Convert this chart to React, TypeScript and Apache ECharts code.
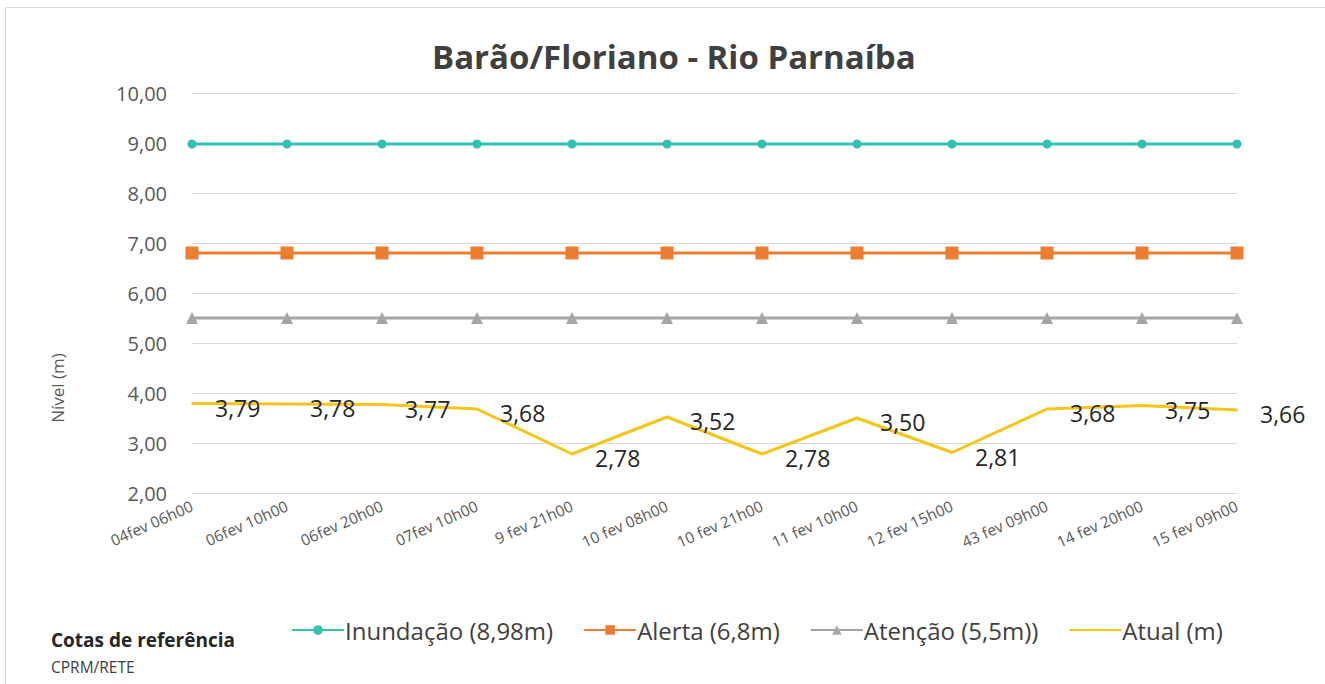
import React, { useEffect, useRef } from "react";
import * as echarts from "echarts";

const categories = [
  "04fev 06h00",
  "06fev 10h00",
  "06fev 20h00",
  "07fev 10h00",
  "9 fev 21h00",
  "10 fev 08h00",
  "10 fev 21h00",
  "11 fev 10h00",
  "12 fev 15h00",
  "43 fev 09h00",
  "14 fev 20h00",
  "15 fev 09h00",
];

const inundacao = [8.98, 8.98, 8.98, 8.98, 8.98, 8.98, 8.98, 8.98, 8.98, 8.98, 8.98, 8.98];
const alerta = [6.8, 6.8, 6.8, 6.8, 6.8, 6.8, 6.8, 6.8, 6.8, 6.8, 6.8, 6.8];
const atencao = [5.5, 5.5, 5.5, 5.5, 5.5, 5.5, 5.5, 5.5, 5.5, 5.5, 5.5, 5.5];
const atual = [3.79, 3.78, 3.77, 3.68, 2.78, 3.52, 2.78, 3.5, 2.81, 3.68, 3.75, 3.66];

const seriesNames = ["Inundação (8,98m)", "Alerta (6,8m)", "Atenção (5,5m))", "Atual (m)"];

const FONT = "'Open Sans', sans-serif";
const fmt = (v: number) => v.toFixed(2).replace(".", ",");

export default function App() {
  const ref = useRef<HTMLDivElement>(null);
  useEffect(() => {
    if (!ref.current) return;
    const chart = echarts.init(ref.current, undefined, { renderer: "svg" });
    chart.setOption({
      animation: false,
      backgroundColor: "#ffffff",
      textStyle: { fontFamily: FONT },
      title: {
        text: "Barão/Floriano - Rio Parnaíba",
        left: 427,
        top: 35,
        textStyle: { fontFamily: FONT, fontSize: 33, fontWeight: "bold", color: "#404040" },
      },
      grid: { left: 192, right: 88, top: 93, bottom: 191, containLabel: false },
      xAxis: {
        type: "category",
        data: categories,
        boundaryGap: false,
        axisLine: { show: false },
        axisTick: { show: false },
        axisLabel: {
          rotate: 24,
          fontFamily: FONT,
          fontSize: 15.5,
          color: "#595959",
          margin: 12,
          interval: 0,
        },
      },
      yAxis: {
        type: "value",
        min: 2,
        max: 10,
        interval: 1,
        axisLine: { show: false },
        axisTick: { show: false },
        splitLine: { lineStyle: { color: "#D9D9D9", width: 1 } },
        axisLabel: {
          formatter: (v: number) => fmt(v),
          fontFamily: FONT,
          fontSize: 20,
          color: "#595959",
          margin: 25,
        },
      },
      legend: {
        left: 286,
        top: 613,
        itemWidth: 52,
        itemHeight: 12,
        itemGap: 30,
        textStyle: { fontFamily: FONT, fontSize: 24, color: "#404040", padding: [0, 0, 0, -4] },
        data: [
          { name: seriesNames[0] },
          { name: seriesNames[1] },
          { name: seriesNames[2] },
          { name: seriesNames[3], itemStyle: { opacity: 0 } },
        ],
      },
      series: [
        {
          name: seriesNames[0],
          type: "line",
          data: inundacao,
          symbol: "circle",
          symbolSize: 9,
          color: "#33C1B3",
          lineStyle: { width: 3, color: "#33C1B3" },
          itemStyle: { color: "#33C1B3" },
        },
        {
          name: seriesNames[1],
          type: "line",
          data: alerta,
          symbol: "rect",
          symbolSize: 13,
          color: "#ED7D31",
          lineStyle: { width: 3, color: "#ED7D31" },
          itemStyle: { color: "#ED7D31" },
        },
        {
          name: seriesNames[2],
          type: "line",
          data: atencao,
          symbol: "triangle",
          symbolSize: 12,
          color: "#A5A5A5",
          lineStyle: { width: 3, color: "#A5A5A5" },
          itemStyle: { color: "#A5A5A5" },
        },
        {
          name: seriesNames[3],
          type: "line",
          data: atual,
          symbol: "circle",
          symbolSize: 2,
          color: "#F5C518",
          lineStyle: { width: 3, color: "#F5C518" },
          itemStyle: { color: "#F5C518" },
          label: {
            show: true,
            position: "right",
            distance: 22,
            offset: [0, 4],
            formatter: (p: any) => fmt(p.value),
            fontFamily: FONT,
            fontSize: 23,
            color: "#262626",
          },
        },
      ],
      graphic: [
        {
          type: "rect",
          shape: { x: 5.5, y: 7.5, width: 1330, height: 700 },
          style: { fill: "none", stroke: "#D9D9D9", lineWidth: 1 },
          silent: true,
        },
        {
          type: "text",
          x: 57,
          y: 388,
          rotation: Math.PI / 2,
          style: {
            text: "Nível (m)",
            fontFamily: FONT,
            fontSize: 17,
            fill: "#595959",
            align: "center",
            verticalAlign: "middle",
          },
        },
        {
          type: "text",
          x: 51,
          y: 640,
          style: {
            text: "Cotas de referência",
            fontFamily: FONT,
            fontSize: 19,
            fontWeight: "bold",
            fill: "#262626",
            align: "left",
            verticalAlign: "middle",
          },
        },
        {
          type: "text",
          x: 51,
          y: 667,
          style: {
            text: "CPRM/RETE",
            fontFamily: FONT,
            fontSize: 15.5,
            fill: "#404040",
            align: "left",
            verticalAlign: "middle",
          },
        },
      ],
    });
    return () => chart.dispose();
  }, []);
  return (
    <div
      ref={ref}
      style={{ position: "absolute", left: 0, top: 0, width: 1325, height: 684 }}
    />
  );
}
